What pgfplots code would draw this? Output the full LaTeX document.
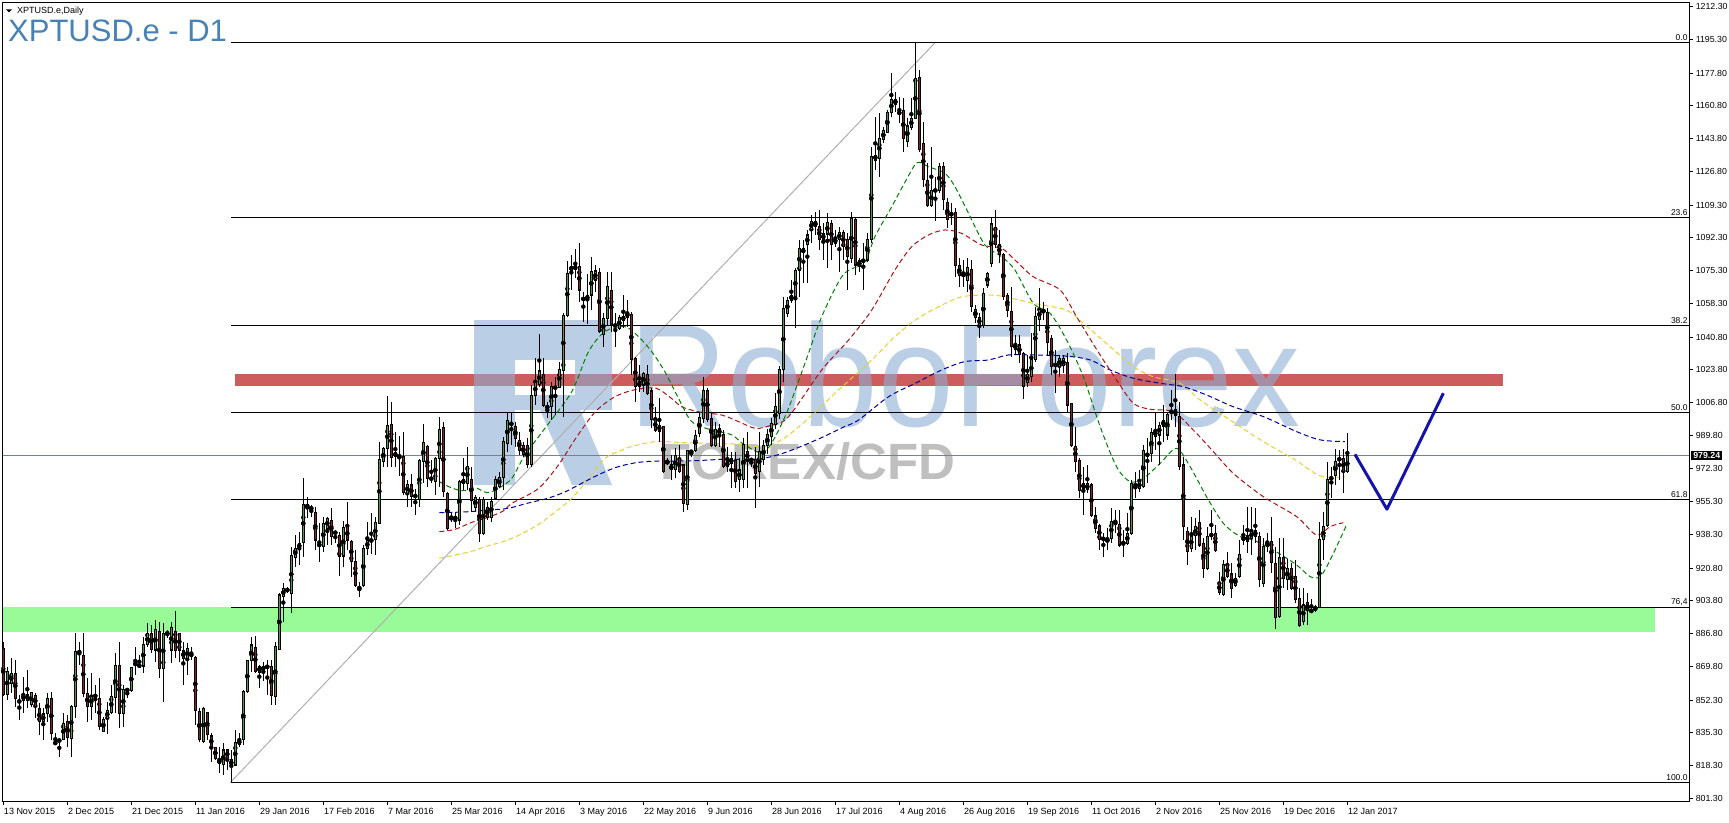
\documentclass[border=0pt]{standalone}
\usepackage{fontspec}
\setmainfont{Liberation Sans}
\usepackage{graphicx}
\usepackage{pgfplots}
\pgfplotsset{compat=1.18}
\usepackage{pgfplotstable}

\definecolor{upc}{RGB}{70,160,70}
\definecolor{dnc}{RGB}{140,30,50}
\definecolor{gband}{RGB}{152,251,152}
\definecolor{rband}{RGB}{205,92,92}
\definecolor{diagc}{RGB}{175,175,175}
\definecolor{pricec}{RGB}{120,130,140}
\definecolor{titlec}{RGB}{70,130,180}
\definecolor{wmblue}{RGB}{140,175,212}
\definecolor{wmgray}{RGB}{128,128,128}
\definecolor{mag}{RGB}{0,128,0}
\definecolor{mar}{RGB}{170,20,20}
\definecolor{may}{RGB}{235,205,50}
\definecolor{man}{RGB}{0,0,150}
\definecolor{vblue}{RGB}{20,20,170}

\pgfplotstableread{
i o h l c
0 879.2 882.6 854.5 855.0
1 855.4 869.6 852.3 867.0
2 861.0 874.0 855.8 866.2
3 866.2 873.1 848.9 853.2
4 852.3 854.9 841.9 850.9
5 852.0 864.5 845.4 855.4
6 855.4 867.9 848.0 852.3
7 849.8 856.7 848.9 856.1
8 854.9 855.8 842.8 848.9
9 848.0 850.6 834.2 841.1
10 841.1 848.0 831.6 845.1
11 845.1 855.8 841.1 853.2
12 853.2 856.7 831.6 835.0
13 829.3 835.0 829.0 830.7
14 830.7 832.4 822.6 831.9
15 831.9 845.4 831.6 840.2
16 841.1 844.5 828.1 833.0
17 832.4 849.7 822.9 848.9
18 848.9 886.9 842.8 877.4
19 877.8 882.6 870.5 876.6
20 875.7 886.9 854.1 855.8
21 855.8 863.6 841.1 848.9
22 848.9 866.2 842.0 854.4
23 855.3 860.1 845.4 853.7
24 853.2 863.6 836.8 838.5
25 835.9 843.7 835.5 842.3
26 842.8 851.5 834.7 847.1
27 845.8 860.1 845.1 854.4
28 853.7 876.6 845.4 870.5
29 870.5 882.6 837.6 845.4
30 845.4 860.1 838.1 857.9
31 857.5 858.4 853.2 857.6
32 857.2 869.6 856.7 869.3
33 871.0 880.0 865.3 871.1
34 871.0 875.7 868.8 869.3
35 870.0 885.2 866.2 881.4
36 880.9 892.1 880.0 886.9
37 886.9 891.3 876.6 878.6
38 878.3 893.9 872.2 889.0
39 887.8 893.0 863.6 868.8
40 868.8 892.1 851.5 886.9
41 886.1 888.7 884.4 887.8
42 878.3 893.0 871.4 890.1
43 887.8 898.7 873.9 877.9
44 886.9 887.3 872.2 878.3
45 877.8 882.6 860.1 874.0
46 874.0 881.8 865.3 879.2
47 875.7 880.0 873.1 875.8
48 874.3 875.2 839.4 847.1
49 846.3 848.0 830.7 831.6
50 830.7 848.5 830.2 848.0
51 845.8 846.3 831.6 834.2
52 833.7 835.0 820.3 828.1
53 827.8 828.1 821.2 822.1
54 821.2 828.1 814.3 819.5
55 818.6 829.8 813.4 826.4
56 826.4 826.7 816.0 822.1
57 821.5 826.4 809.9 818.1
58 818.6 836.8 818.1 830.2
59 829.0 835.0 828.1 831.9
60 831.6 857.5 829.0 856.7
61 856.7 873.1 856.2 872.8
62 872.8 885.2 867.0 880.9
63 879.7 885.6 866.2 867.0
64 866.5 870.5 858.4 870.0
65 867.6 872.0 862.0 870.0
66 869.0 873.0 855.0 870.2
67 869.6 873.1 849.7 854.9
68 854.1 882.6 849.7 880.0
69 878.6 908.1 878.3 906.9
70 906.0 912.9 893.0 910.3
71 909.4 911.2 907.7 909.5
72 907.7 931.9 897.3 927.6
73 926.4 938.0 921.2 931.1
74 931.1 939.7 922.4 933.7
75 934.0 967.4 926.8 954.1
76 953.5 957.9 946.7 952.7
77 952.4 953.6 947.5 951.3
78 949.6 952.7 930.2 935.4
79 933.7 944.1 924.2 932.0
80 932.0 947.5 929.4 944.1
81 941.5 947.5 932.8 946.7
82 945.8 951.8 932.8 937.1
83 939.2 940.1 933.7 939.3
84 938.0 939.7 916.7 927.1
85 927.1 945.5 921.6 942.0
86 942.3 955.3 930.2 935.4
87 934.5 935.4 916.4 924.2
88 924.2 930.2 911.2 912.0
89 909.5 913.8 906.0 911.5
90 912.0 932.8 911.2 931.1
91 931.1 944.9 927.6 935.1
92 934.5 949.3 928.1 935.8
93 935.8 947.5 927.6 944.4
94 944.1 986.5 943.7 977.3
95 976.1 983.9 973.5 983.0
96 983.0 1010.0 973.5 995.1
97 995.6 1007.2 973.5 978.3
98 980.9 991.7 973.5 978.7
99 979.0 989.4 968.6 977.8
100 979.0 991.7 958.8 960.0
101 959.6 966.6 952.7 964.3
102 964.0 969.7 952.4 957.9
103 958.3 961.7 948.4 958.2
104 956.5 977.3 952.7 976.9
105 976.1 995.6 964.8 985.9
106 984.2 984.7 963.1 967.4
107 968.0 976.9 964.8 966.6
108 965.7 978.3 958.8 977.8
109 977.8 999.1 963.1 992.9
110 993.9 996.9 958.0 960.5
111 959.6 960.5 940.6 941.5
112 946.7 949.3 945.0 946.7
113 946.2 950.1 941.5 947.5
114 945.8 966.6 943.2 965.7
115 964.5 977.8 961.4 966.9
116 964.8 983.5 961.4 973.8
117 966.9 973.5 950.1 955.8
118 952.4 958.8 950.1 957.6
119 956.5 957.9 934.5 938.9
120 938.9 957.9 938.0 956.5
121 952.4 955.3 945.8 947.2
122 947.2 957.9 945.0 955.3
123 957.0 968.6 956.2 966.9
124 963.1 970.9 962.2 967.9
125 967.9 989.1 961.4 986.5
126 985.6 1002.0 981.3 997.4
127 996.0 1001.2 984.7 995.5
128 994.3 996.9 983.9 988.2
129 987.3 991.7 979.6 982.1
130 984.7 986.5 978.7 979.6
131 984.4 988.2 972.6 974.7
132 974.4 1015.9 973.5 1010.4
133 1010.4 1029.7 1005.5 1017.3
134 1016.2 1042.2 1015.0 1023.2
135 1021.4 1029.7 1004.6 1005.2
136 1003.4 1007.2 998.6 1005.5
137 1004.6 1017.6 997.7 1015.0
138 1014.5 1020.2 1000.3 1014.6
139 1014.5 1028.0 1014.2 1024.2
140 1023.2 1053.1 999.4 1052.2
141 1052.2 1080.3 1051.4 1073.9
142 1075.6 1083.4 1065.2 1077.3
143 1075.9 1086.5 1071.3 1077.8
144 1077.3 1089.4 1059.2 1065.2
145 1061.2 1064.4 1048.8 1060.0
146 1060.0 1073.3 1047.4 1062.6
147 1062.6 1082.5 1054.8 1074.7
148 1070.4 1078.2 1064.4 1075.1
149 1074.4 1076.5 1042.7 1043.6
150 1042.2 1053.1 1035.8 1050.5
151 1050.5 1074.7 1047.0 1066.9
152 1065.2 1074.7 1043.6 1047.4
153 1047.0 1053.1 1035.8 1046.7
154 1045.3 1052.2 1044.4 1050.8
155 1049.6 1062.6 1045.3 1051.4
156 1050.9 1060.0 1046.2 1053.6
157 1052.6 1054.0 1021.1 1028.9
158 1029.7 1030.6 1007.2 1015.0
159 1015.0 1026.3 1012.4 1017.6
160 1015.9 1022.8 1012.4 1022.0
161 1021.4 1026.3 1010.7 1011.6
162 1012.8 1014.2 993.4 998.2
163 998.2 1004.6 991.7 992.5
164 995.1 1009.0 986.5 992.0
165 994.3 994.3 970.0 970.9
166 975.7 977.8 974.4 975.8
167 974.4 979.5 966.6 971.8
168 971.8 983.0 967.4 979.2
169 977.8 984.7 970.0 970.9
170 974.4 974.5 950.1 954.4
171 953.9 982.2 951.0 982.1
172 981.3 982.1 978.7 981.2
173 982.1 992.5 981.3 989.9
174 990.8 1002.0 989.1 998.9
175 998.6 1020.2 996.0 1013.3
176 1013.3 1014.2 996.9 998.2
177 998.6 1001.2 983.9 984.7
178 984.7 996.9 983.9 993.0
179 990.3 995.5 983.9 993.4
180 990.3 992.5 972.6 973.5
181 973.5 983.9 970.9 976.1
182 975.2 981.3 962.2 977.8
183 976.9 981.3 962.2 965.7
184 966.6 977.8 960.5 971.8
185 966.6 988.2 962.2 985.1
186 981.3 991.7 962.2 977.0
187 977.0 977.8 973.5 977.1
188 977.0 983.9 951.9 970.0
189 970.9 991.7 963.1 981.3
190 977.0 987.3 974.4 984.7
191 984.7 993.0 980.0 990.0
192 989.0 999.0 985.0 996.0
193 995.5 1011.5 993.0 1004.6
194 1001.2 1026.0 998.0 1024.0
195 1023.7 1061.7 1017.6 1055.7
196 1053.1 1061.7 1051.4 1060.0
197 1060.0 1070.4 1058.3 1062.6
198 1061.7 1076.5 1045.3 1075.6
199 1075.6 1091.2 1061.7 1086.9
200 1084.5 1091.2 1068.7 1086.6
201 1088.6 1096.4 1068.7 1093.8
202 1096.7 1104.1 1089.4 1100.7
203 1100.7 1105.9 1093.8 1098.1
204 1098.1 1106.7 1086.0 1091.2
205 1091.5 1099.8 1080.8 1094.3
206 1094.3 1105.0 1076.5 1100.2
207 1099.8 1101.5 1080.8 1088.6
208 1089.4 1096.4 1087.7 1092.0
209 1091.5 1098.1 1074.7 1095.0
210 1095.0 1096.4 1080.8 1087.7
211 1091.5 1094.6 1065.2 1082.5
212 1081.6 1105.9 1079.0 1102.4
213 1101.9 1103.3 1073.0 1078.2
214 1077.3 1081.6 1074.7 1080.8
215 1080.4 1089.4 1065.2 1080.5
216 1080.8 1094.6 1079.9 1091.5
217 1091.2 1139.6 1089.4 1134.4
218 1135.3 1155.2 1127.5 1132.7
219 1133.6 1156.9 1124.1 1144.0
220 1143.5 1150.0 1141.4 1147.9
221 1146.9 1158.7 1146.6 1157.3
222 1157.3 1177.7 1155.2 1164.2
223 1163.9 1168.2 1157.8 1161.8
224 1158.3 1165.6 1151.7 1156.1
225 1158.3 1164.7 1137.0 1144.0
226 1142.2 1154.3 1139.6 1150.4
227 1149.7 1164.7 1148.3 1154.3
228 1154.3 1194.1 1153.8 1175.1
229 1175.6 1179.4 1137.0 1138.2
230 1141.4 1152.6 1118.9 1122.7
231 1122.3 1131.0 1108.5 1109.3
232 1109.2 1139.6 1108.5 1117.1
233 1117.5 1124.1 1101.2 1116.3
234 1117.1 1131.0 1115.4 1129.6
235 1129.6 1131.8 1106.7 1112.3
236 1110.6 1112.8 1097.2 1101.6
237 1104.5 1110.2 1099.0 1104.6
238 1105.4 1107.6 1072.1 1077.7
239 1078.2 1081.6 1066.9 1072.5
240 1073.0 1080.8 1066.9 1073.1
241 1070.1 1081.6 1064.3 1077.0
242 1075.9 1080.8 1054.0 1056.6
243 1055.2 1057.4 1047.9 1051.0
244 1051.0 1053.1 1040.1 1047.0
245 1047.0 1066.1 1045.3 1063.5
246 1067.8 1074.7 1066.1 1073.8
247 1079.0 1103.3 1077.3 1099.5
248 1097.8 1106.7 1086.9 1088.6
249 1088.6 1096.4 1079.1 1083.4
250 1083.9 1084.2 1060.0 1061.7
251 1062.6 1063.5 1051.4 1054.8
252 1054.0 1066.9 1030.6 1035.8
253 1034.4 1041.9 1031.5 1037.2
254 1036.7 1041.9 1027.1 1031.5
255 1032.3 1033.2 1008.5 1015.0
256 1017.1 1031.5 1015.0 1021.6
257 1020.2 1042.7 1017.6 1029.2
258 1028.9 1056.6 1028.0 1051.4
259 1050.0 1066.1 1044.1 1055.2
260 1054.8 1059.2 1049.6 1053.5
261 1053.5 1055.7 1031.5 1037.9
262 1040.1 1041.9 1021.1 1025.4
263 1026.3 1034.1 1011.6 1026.4
264 1025.4 1031.5 1020.2 1029.7
265 1025.8 1031.5 1021.9 1029.7
266 1027.5 1032.3 1002.0 1005.5
267 1006.4 1006.7 983.9 984.7
268 984.2 994.3 970.9 976.1
269 976.6 977.8 957.0 961.0
270 964.8 973.5 948.4 962.2
271 961.4 974.4 959.6 964.8
272 964.0 964.8 947.5 947.9
273 947.9 952.4 938.9 941.5
274 942.7 943.7 930.2 935.8
275 936.3 938.9 926.8 935.8
276 935.8 941.5 930.2 934.5
277 936.3 951.9 933.7 944.9
278 943.7 951.0 938.9 944.7
279 943.7 951.0 932.0 932.8
280 934.5 940.6 926.4 933.3
281 933.7 949.3 932.8 938.9
282 938.9 966.6 938.0 964.8
283 962.8 970.9 957.0 962.9
284 962.2 971.8 960.5 965.7
285 963.1 984.7 962.2 982.1
286 979.0 988.2 964.8 980.4
287 980.4 993.4 976.1 991.1
288 992.5 1002.0 982.1 989.1
289 989.9 996.9 974.4 995.1
290 994.6 1005.5 986.5 997.7
291 989.9 1001.5 987.3 1000.8
292 1002.9 1013.3 997.7 1001.2
293 1003.3 1021.6 994.3 1000.3
294 999.8 1007.2 971.8 973.5
295 974.4 978.7 935.4 942.3
296 939.7 942.3 922.4 929.4
297 931.1 947.5 929.4 937.5
298 937.5 946.7 930.2 942.3
299 944.4 951.0 932.0 932.8
300 933.7 936.3 915.5 920.7
301 920.7 942.3 919.8 937.1
302 937.1 951.0 935.4 938.9
303 938.9 943.2 929.4 929.9
304 913.3 918.9 906.9 908.1
305 906.9 925.0 906.5 922.9
306 922.9 929.4 915.5 916.4
307 917.8 923.3 905.1 910.3
308 912.0 918.1 911.2 915.5
309 916.4 935.4 915.5 928.1
310 935.4 943.2 932.8 937.1
311 938.0 952.7 928.5 934.5
312 936.3 952.7 927.6 939.7
313 940.6 951.9 933.7 937.1
314 937.2 939.8 911.2 914.7
315 912.9 936.3 911.2 932.0
316 932.0 938.9 929.4 934.6
317 934.6 947.6 918.1 923.7
318 923.0 932.0 889.0 895.3
319 895.6 936.3 894.8 926.4
320 926.4 936.3 910.3 915.5
321 915.0 925.4 909.5 920.7
322 920.7 923.3 909.5 910.3
323 916.7 925.0 902.6 904.3
324 905.1 910.3 890.4 890.8
325 893.1 910.3 891.3 901.7
326 902.9 907.7 891.3 898.7
327 897.7 904.6 897.4 899.4
328 899.1 901.7 898.2 900.5
329 900.5 945.0 900.0 935.8
330 935.8 950.1 925.0 942.3
331 942.7 976.1 942.3 966.9
332 967.4 973.5 957.1 967.5
333 968.7 982.5 964.0 976.1
334 977.3 982.2 966.6 977.4
335 977.8 982.5 960.0 970.9
336 970.9 991.2 970.0 979.24
}\candles

\pgfplotstableread{
x y
109 965.7
112 962.5
115 961.0
118 962.5
121 960.0
124 962.5
127.1 967.4
130.4 979.5
135.4 993.4
142.1 1012.4
146.3 1033.2
150.4 1043.6
155.4 1046.2
158.8 1041.0
162.1 1033.2
165.4 1022.8
168.8 1009.0
172.1 996.9
177.1 992.5
182.1 990.0
185.4 984.7
190.4 981.3
195.4 999.4
200.4 1027.1
204.6 1051.4
209.6 1072.1
213 1077.0
215.4 1079.0
217.9 1092.9
222.1 1108.5
225.5 1121.5
228.4 1131.3
231.3 1129.2
235.4 1125.8
237.9 1118.9
241.3 1105.0
245.4 1088.6
249.6 1082.5
252.9 1075.6
257.5 1058.3
261.7 1053.1
265.8 1039.3
270 1020.2
274.2 994.3
278.3 973.5
281.7 965.7
285 967.4
289.2 975.2
293.3 983.0
296.7 973.5
300.8 957.9
305 944.1
309.2 937.2
312.5 935.4
317.5 930.2
323.3 922.5
326.7 916.4
329.2 916.4
331.7 925.0
335.8 943.2
}\maG

\pgfplotstableread{
x y
109 939.7
113 941.0
117 944.5
121 947.0
125 950.5
127.1 954.4
133.8 962.2
138.8 974.4
143.1 988.2
148 1002.0
152.9 1009.8
158 1013.5
163.2 1014.2
167 1009.0
169.6 1004.6
173.8 1002.0
179.6 1000.3
183.8 996.9
188 993.4
192 995.0
196.3 999.4
204.6 1023.7
211.3 1039.2
217.1 1054.8
222.9 1075.6
227.1 1087.7
231.3 1093.8
235.4 1096.4
239.6 1094.6
244.6 1088.6
249.6 1086.8
252.9 1080.8
257.5 1072.1
264.2 1065.2
268.3 1051.4
273.4 1034.1
278.3 1018.5
282.5 1006.4
286.7 1003.3
292.5 1002.0
297.5 992.5
302.5 981.3
307.5 970.0
315 957.9
323.3 947.6
328.3 938.0
331.7 942.4
335 944.4
}\maR

\pgfplotstableread{
x y
109 925.9
113 927.6
117 929.5
121 932.3
125 934.6
129 938.0
133.8 943.5
138 950.0
142.1 957.0
146 966.5
150.4 977.8
154 981.5
157 983.9
163 986.5
170 986.0
175.9 985.6
184.4 985.1
190 983.9
195 988.0
201.3 998.6
208.8 1013.3
217.1 1028.9
222.9 1041.0
228 1049.6
233.9 1056.6
239.6 1061.7
246.3 1062.6
250.4 1061.7
257.5 1058.3
265.8 1054.8
270 1047.9
276.7 1035.8
282.5 1025.4
287.5 1020.2
294.2 1016.8
299.2 1008.1
306.7 997.7
315 986.5
323.3 976.6
329.2 968.7
335.4 968.3
}\maY

\pgfplotstableread{
x y
109 949.6
113 949.8
117 950.2
121 951.0
125 951.5
127 952.2
131 954.5
136 957.0
140 960.0
143 963.1
148 968.5
153 973.0
158 975.5
163 976.4
168 976.4
173 976.6
180 977.3
186 977.3
190 977.8
195 980.5
200 984.5
205 989.0
210 994.0
213.8 997.7
221.3 1009.8
227.9 1016.7
234.6 1023.7
240.3 1028.0
246.3 1028.9
251.3 1031.5
257.5 1031.5
265.8 1030.9
271.7 1028.9
276.7 1023.7
282.5 1019.4
289.2 1016.8
295 1015.0
300.8 1010.7
307.5 1004.6
315 999.5
323.3 991.7
329.2 987.4
335.4 986.5
}\maN

\begin{document}
\begin{tikzpicture}
\path[use as bounding box] (0pt,0pt) rectangle (1729pt,822pt);
\begin{axis}[
  at={(2.7pt,21pt)}, anchor=south west,
  scale only axis, width=1686.6pt, height=798.3pt,
  xmin=-0.15, xmax=421.5, ymin=799.9, ymax=1214.4,
  axis line style={black, line width=1pt},
  clip mode=individual,
  tick align=outside, major tick length=4pt,
  tick style={black, line width=1pt},
  xtick pos=bottom, ytick pos=right, yticklabel pos=right,
  xtick={0,16,...,336},
  xticklabels={13 Nov 2015,2 Dec 2015,21 Dec 2015,11 Jan 2016,29 Jan 2016,17 Feb 2016,7 Mar 2016,25 Mar 2016,14 Apr 2016,3 May 2016,22 May 2016,9 Jun 2016,28 Jun 2016,17 Jul 2016,4 Aug 2016,26 Aug 2016,19 Sep 2016,11 Oct 2016,2 Nov 2016,25 Nov 2016,19 Dec 2016,12 Jan 2017},
  ytick={801.3,818.3,835.3,852.3,869.8,886.8,903.8,920.8,938.3,955.3,972.3,989.8,1006.8,1023.8,1040.8,1058.3,1075.3,1092.3,1109.3,1126.8,1143.8,1160.8,1177.8,1195.3,1212.3},
  yticklabels={801.30,818.30,835.30,852.30,869.80,886.80,903.80,920.80,938.30,955.30,972.30,989.80,1006.80,1023.80,1040.80,1058.30,1075.30,1092.30,1109.30,1126.80,1143.80,1160.80,1177.80,1195.30,1212.30},
  xticklabel style={anchor=base west, inner sep=0pt, xshift=0.5pt, yshift=-9pt, font=\fontsize{9}{10}\selectfont},
  yticklabel style={anchor=west, inner sep=0pt, xshift=2.2pt, font=\fontsize{8.8}{10}\selectfont},
]
% bands
\addplot[fill=gband, draw=none, mark=none] coordinates {(-0.15,887.8) (412.9,887.8) (412.9,900.5) (-0.15,900.5)};
\addplot[fill=rband, draw=none, mark=none] coordinates {(57.9,1015.4) (374.85,1015.4) (374.85,1021.7) (57.9,1021.7)};
% watermark logo
\addplot[fill=wmblue, fill opacity=0.6, draw=none, mark=none] coordinates {(117.7,1049.6) (152.2,1049.6) (152.2,1028.9) (117.7,1028.9)};
\addplot[fill=wmblue, fill opacity=0.6, draw=none, mark=none] coordinates {(117.7,1028.9) (127.9,1028.9) (127.9,963.9) (117.7,963.9)};
\addplot[fill=wmblue, fill opacity=0.6, draw=none, mark=none] coordinates {(142.9,1028.9) (152.2,1028.9) (152.2,1002.9) (142.9,1002.9)};
\addplot[fill=wmblue, fill opacity=0.6, draw=none, mark=none] coordinates {(127.9,1010.7) (142.9,1010.7) (142.9,1002.9) (127.9,1002.9)};
\addplot[fill=wmblue, fill opacity=0.6, draw=none, mark=none] coordinates {(134.2,1002.9) (144.2,1002.9) (152.2,963.9) (142.2,963.9)};
\node[anchor=base west, inner sep=0pt, text=wmblue, text opacity=0.6, font=\fontsize{146}{150}\selectfont] at (axis cs:156.4,994.6) {\scalebox{0.93}[1]{RoboForex}};
\node[anchor=base west, inner sep=0pt, text=wmgray, text opacity=0.5, font=\bfseries\fontsize{51}{55}\selectfont] at (axis cs:164.2,967.0) {FOREX/CFD};
% fibonacci
\addplot[diagc, line width=1pt, mark=none] coordinates {(56.8,809.6) (233,1193.8)};
\addplot[black, line width=1pt, mark=none] coordinates {(56.9,1193.8) (421.5,1193.8)};
\addplot[black, line width=1pt, mark=none] coordinates {(56.9,1103.1) (421.5,1103.1)};
\addplot[black, line width=1pt, mark=none] coordinates {(56.9,1047.0) (421.5,1047.0)};
\addplot[black, line width=1pt, mark=none] coordinates {(56.9,1001.7) (421.5,1001.7)};
\addplot[black, line width=1pt, mark=none] coordinates {(56.9,956.4) (421.5,956.4)};
\addplot[black, line width=1pt, mark=none] coordinates {(56.9,900.3) (421.5,900.3)};
\addplot[black, line width=1pt, mark=none] coordinates {(56.9,809.6) (421.5,809.6)};
\addplot[pricec, line width=1pt, mark=none] coordinates {(-0.15,979.24) (421.5,979.24)};
% moving averages
\addplot[may, line width=1pt, dash pattern=on 5pt off 3pt, smooth, mark=none] table[x=x,y=y] {\maY};
\addplot[man, line width=1pt, dash pattern=on 5pt off 3pt, smooth, mark=none] table[x=x,y=y] {\maN};
\addplot[mar, line width=1pt, dash pattern=on 5pt off 3pt, smooth, mark=none] table[x=x,y=y] {\maR};
\addplot[mag, line width=1pt, dash pattern=on 5pt off 3pt, smooth, mark=none] table[x=x,y=y] {\maG};
% candles: wicks
\addplot[only marks, mark=none, error bars/.cd, y dir=both, y explicit, error mark=none, error bar style={line width=1pt, black}]
  table[x=i, y expr={(\thisrow{h}+\thisrow{l})/2}, y error expr={(\thisrow{h}-\thisrow{l})/2}] {\candles};
% bodies outline
\addplot[only marks, mark=none, error bars/.cd, y dir=both, y explicit, error mark=none, error bar style={line width=3.2pt, black}]
  table[x=i, y expr={(\thisrow{o}+\thisrow{c})/2}, y error expr={abs(\thisrow{c}-\thisrow{o})/2+0.26}] {\candles};
% bodies fill up
\addplot[only marks, mark=none, unbounded coords=discard, error bars/.cd, y dir=both, y explicit, error mark=none, error bar style={line width=1.4pt, upc}]
  table[x=i, y expr={\thisrow{c}>=\thisrow{o} ? (\thisrow{o}+\thisrow{c})/2 : nan}, y error expr={max(abs(\thisrow{c}-\thisrow{o})/2-0.3,0)}] {\candles};
% bodies fill down
\addplot[only marks, mark=none, unbounded coords=discard, error bars/.cd, y dir=both, y explicit, error mark=none, error bar style={line width=1.4pt, dnc}]
  table[x=i, y expr={\thisrow{c}<\thisrow{o} ? (\thisrow{o}+\thisrow{c})/2 : nan}, y error expr={max(abs(\thisrow{c}-\thisrow{o})/2-0.3,0)}] {\candles};
% hand drawn V
\addplot[vblue, line width=3pt, mark=none, line join=round] coordinates {(337.9,979.9) (345.9,951.4) (360.0,1011.6)};
% fib labels
\node[anchor=south east, inner sep=0pt, yshift=1.5pt, font=\fontsize{8.5}{9}\selectfont] at (axis cs:421.1,1193.8) {0.0};
\node[anchor=south east, inner sep=0pt, yshift=1.5pt, font=\fontsize{8.5}{9}\selectfont] at (axis cs:421.1,1103.1) {23.6};
\node[anchor=south east, inner sep=0pt, yshift=1.5pt, font=\fontsize{8.5}{9}\selectfont] at (axis cs:421.1,1047.0) {38.2};
\node[anchor=south east, inner sep=0pt, yshift=1.5pt, font=\fontsize{8.5}{9}\selectfont] at (axis cs:421.1,1001.7) {50.0};
\node[anchor=south east, inner sep=0pt, yshift=1.5pt, font=\fontsize{8.5}{9}\selectfont] at (axis cs:421.1,956.4) {61.8};
\node[anchor=south east, inner sep=0pt, yshift=1.5pt, font=\fontsize{8.5}{9}\selectfont] at (axis cs:421.1,900.3) {76,4};
\node[anchor=south east, inner sep=0pt, yshift=1.5pt, font=\fontsize{8.5}{9}\selectfont] at (axis cs:421.1,809.6) {100.0};
\node[fill=black, text=white, anchor=west, inner xsep=2.2pt, inner ysep=1.5pt, xshift=1.5pt, font=\bfseries\fontsize{8.8}{10}\selectfont] at (axis cs:421.5,979.24) {979.24};
\end{axis}
\fill (6pt,812.7pt) -- (12pt,812.7pt) -- (9pt,809.7pt) -- cycle;
\node[anchor=base west, inner sep=0pt, font=\fontsize{9}{10}\selectfont] at (17pt,808.5pt) {XPTUSD.e,Daily};
\node[anchor=base west, inner sep=0pt, text=titlec, font=\fontsize{31}{33}\selectfont] at (8pt,780pt) {XPTUSD.e - D1};
\end{tikzpicture}
\end{document}
